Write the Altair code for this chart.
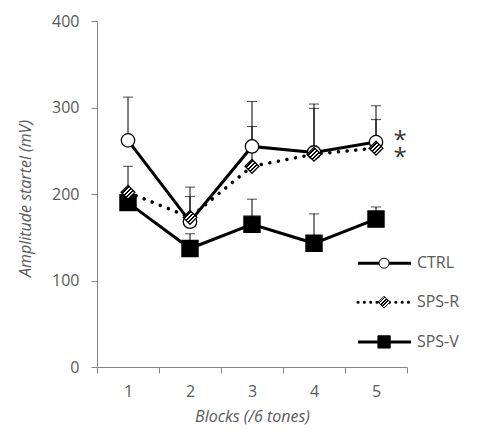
import altair as alt
import pandas as pd

# ---- data ----
blocks = [1, 2, 3, 4, 5]
series_names = ["CTRL", "SPS-R", "SPS-V"]
ctrl_mean = [262, 168, 255, 248, 260]
ctrl_sem = [50, 40, 52, 56, 42]
spsr_mean = [202, 173, 232, 246, 253]
spsr_sem = [30, 24, 46, 53, 33]
spsv_mean = [190, 137, 165, 143, 171]
spsv_sem = [12, 17, 29, 34, 14]
y_ticks = [0, 100, 200, 300, 400]
block_edges = [0.5, 1.5, 2.5, 3.5, 4.5, 5.5]
star_text = ["*\n*"]      # two significance stars, stacked
star_block = [5.39]
star_value = [260]

means = {"CTRL": ctrl_mean, "SPS-R": spsr_mean, "SPS-V": spsv_mean}
sems = {"CTRL": ctrl_sem, "SPS-R": spsr_sem, "SPS-V": spsv_sem}

rows = []
for s in series_names:
    for b, m, e in zip(blocks, means[s], sems[s]):
        rows.append({"series": s, "block": b, "mean": m, "upper": m + e})
df = pd.DataFrame(rows)

# legend rows (placed in data space, lower right)
legend_df = pd.DataFrame({
    "series": series_names,
    "ly": [120, 75, 29],
})
legend_df["lx0"] = 4.71
legend_df["lx1"] = 5.565
legend_df["lxm"] = 5.13
legend_df["ltx"] = 5.66

stars_df = pd.DataFrame({"t": star_text, "block": star_block, "mean": star_value})

# ---- styles ----
n = 7
stops = []
for k in range(n):
    a, b_, c = k / n, (k + 0.5) / n, (k + 1) / n
    stops += [{"offset": a, "color": "#000000"}, {"offset": b_, "color": "#000000"},
              {"offset": b_, "color": "#ffffff"}, {"offset": c, "color": "#ffffff"}]
hatch = {"gradient": "linear", "x1": 0, "y1": 0, "x2": 1, "y2": 1, "stops": stops}

style = {
    "CTRL": dict(shape="circle", fill="#ffffff", size=180, lsize=100, dash=None),
    "SPS-R": dict(shape="diamond", fill=hatch, size=190, lsize=140, dash=[0.1, 8.6], ldash=[0.1, 6.2]),
    "SPS-V": dict(shape="square", fill="#000000", size=260, lsize=150, dash=None),
}

xs = alt.Scale(domain=[0.5, 5.5], nice=False, zero=False)
ys = alt.Scale(domain=[0, 400], nice=False, zero=True)

xaxis = alt.Axis(
    values=block_edges,
    labelExpr="datum.value < 5 ? '' + (datum.value + 0.5) : ''",
    labelOffset=31, labelFlush=False, labelOverlap=False, labelPadding=10,
    tickSize=6, grid=False, title="Blocks (/6 tones)",
    titleX=155, titleY=54, titleBaseline="alphabetic", titleAlign="center",
)
yaxis = alt.Axis(
    values=y_ticks, tickSize=6, grid=False, labelPadding=12,
    title="Amplitude startel (mV)", titleX=-67, titleY=177, titleAngle=270,
    titleBaseline="alphabetic", titleAlign="center",
)


def X(field):
    return alt.X(f"{field}:Q", scale=xs, axis=xaxis, title="Blocks (/6 tones)")


def Y(field):
    return alt.Y(f"{field}:Q", scale=ys, axis=yaxis, title="Amplitude startel (mV)")


base = alt.Chart(df)
layers = []

# error bars (upper only)
layers.append(base.mark_rule(color="#000000", strokeWidth=1).encode(
    x=X("block"), y=Y("mean"), y2="upper:Q"))
layers.append(base.mark_tick(orient="horizontal", size=10, thickness=1, color="#000000").encode(
    x=X("block"), y=Y("upper")))

# lines
for s in ["SPS-V", "SPS-R", "CTRL"]:
    st = style[s]
    kw = dict(color="#000000", strokeWidth=3)
    if st["dash"]:
        kw.update(strokeDash=st["dash"], strokeCap="round", strokeWidth=3.5)
    layers.append(alt.Chart(df[df.series == s]).mark_line(**kw).encode(
        x=X("block"), y=Y("mean")))

# markers
for s in ["SPS-V", "CTRL", "SPS-R"]:
    st = style[s]
    layers.append(alt.Chart(df[df.series == s]).mark_point(
        shape=st["shape"], fill=st["fill"], stroke="#000000", strokeWidth=1.3,
        size=st["size"], opacity=1, filled=False, fillOpacity=1).encode(
        x=X("block"), y=Y("mean")))

# asterisks
layers.append(alt.Chart(stars_df).mark_text(
    fontSize=24, font="Open Sans", color="#333333", baseline="middle", align="center",
    dy=-1, lineBreak="\n", lineHeight=17).encode(
    x=X("block"), y=Y("mean"), text="t:N"))

# legend
for s in series_names:
    st = style[s]
    ld = legend_df[legend_df.series == s]
    kw = dict(color="#000000", strokeWidth=3)
    if st["dash"]:
        kw.update(strokeDash=st["ldash"], strokeCap="round", strokeWidth=3)
    layers.append(alt.Chart(ld).mark_rule(**kw).encode(
        x=X("lx0"), x2="lx1:Q", y=Y("ly")))
    layers.append(alt.Chart(ld).mark_point(
        shape=st["shape"], fill=st["fill"], stroke="#000000", strokeWidth=1,
        size=st["lsize"], opacity=1, filled=False, fillOpacity=1).encode(
        x=X("lxm"), y=Y("ly")))
    layers.append(alt.Chart(ld).mark_text(
        fontSize=16, font="Open Sans", color="#595959", align="left", baseline="middle").encode(
        x=X("ltx"), y=Y("ly"), text="series:N"))

chart = alt.layer(*layers).properties(
    width=310, height=346,
    autosize=alt.AutoSizeParams(type="none"),
    padding={"left": 89, "top": 13, "right": 55, "bottom": 59},
    background="#ffffff",
).configure_view(stroke=None).configure_axis(
    domainColor="#868686", tickColor="#868686", domainWidth=1, tickWidth=1,
    labelColor="#595959", labelFont="Open Sans", labelFontSize=16,
    titleColor="#595959", titleFont="Open Sans", titleFontSize=16,
    titleFontStyle="italic", titleFontWeight="normal",
)

chart.save("out.html", embed_options={"renderer": "svg", "actions": False})
